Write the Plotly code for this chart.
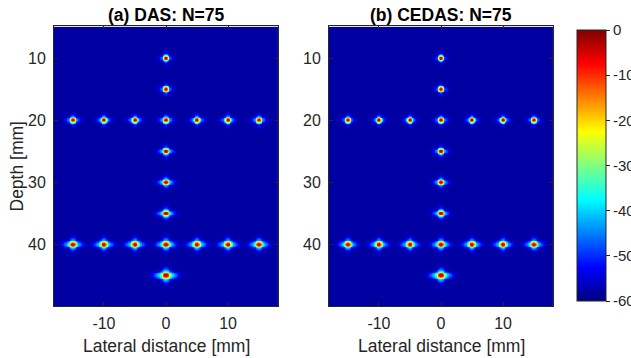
import numpy as np
import plotly.graph_objects as go

# ---- point targets (mm) ----
target_lateral_mm = [0, 0, -15, -10, -5, 0, 5, 10, 15, 0, 0, 0, -15, -10, -5, 0, 5, 10, 15, 0]
target_depth_mm = [10, 15, 20, 20, 20, 20, 20, 20, 20, 25, 30, 35, 40, 40, 40, 40, 40, 40, 40, 45]
das_peak_db = [-2, -2, -3, -3, -3, -2, -3, -3, -3, -2, -2, -2, -3, -3, -3, -2, -3, -3, -3, -1]
cedas_peak_db = [-2, -2, -3, -3, -3, -2, -3, -3, -3, -2, -2, -2, -3, -3, -3, -2, -3, -3, -3, -1]

# ---- point-spread sizes per depth ----
psf_depth_mm = [10, 15, 20, 25, 30, 35, 40, 45]
das_lateral_sigma_mm = [0.16, 0.17, 0.18, 0.19, 0.20, 0.21, 0.23, 0.26]
cedas_lateral_sigma_mm = [0.15, 0.16, 0.17, 0.18, 0.19, 0.20, 0.22, 0.25]
das_axial_sigma_mm = [0.17, 0.17, 0.17, 0.17, 0.17, 0.17, 0.18, 0.19]
cedas_axial_sigma_mm = [0.17, 0.17, 0.17, 0.17, 0.17, 0.17, 0.18, 0.19]
das_sidelobe_db = [-42, -41, -39, -38, -37, -36, -34, -32]
cedas_sidelobe_db = [-44, -43, -41, -40, -39, -38, -35, -33]
floor_db = -58

# ---- axes / labels ----
x_ticks = [-10, 0, 10]
x_tick_text = ["-10", "0", "10"]
y_ticks = [10, 20, 30, 40]
y_tick_text = ["10", "20", "30", "40"]
cb_ticks = [0, -10, -20, -30, -40, -50, -60]
cb_tick_text = ["0", "-10", "-20", "-30", "-40", "-50", "-60"]
titles = ["(a) DAS: N=75", "(b) CEDAS: N=75"]

x_grid = np.round(np.arange(-18.0, 18.0001, 0.12), 3)
z_grid = np.round(np.arange(5.0, 50.0001, 0.12), 3)
X, Z = np.meshgrid(x_grid, z_grid)


def image_db(peaks, lat_sig, ax_sig, side_db):
    env = np.zeros_like(X)
    for tx, tz, pk in zip(target_lateral_mm, target_depth_mm, peaks):
        i = psf_depth_mm.index(tz)
        sx, sz = lat_sig[i], ax_sig[i]
        sl = 10 ** (side_db[i] / 20)
        dx, dz = X - tx, Z - tz
        main = np.exp(-0.5 * (dx / sx) ** 2 - 0.5 * (dz / sz) ** 2)
        ltail = sl * np.exp(-0.5 * (dx / (3.4 * sx)) ** 2 - 0.5 * (dz / (1.5 * sz)) ** 2)
        vtail = 0.8 * sl * np.exp(-0.5 * (dx / (1.3 * sx)) ** 2 - 0.5 * (dz / (3.0 * sz)) ** 2)
        env += 10 ** (pk / 20) * (main + ltail + vtail)
    db = 20 * np.log10(env + 10 ** (floor_db / 20))
    return np.round(np.clip(db, -60, 0), 1)


img_das = image_db(das_peak_db, das_lateral_sigma_mm, das_axial_sigma_mm, das_sidelobe_db)
img_cedas = image_db(cedas_peak_db, cedas_lateral_sigma_mm, cedas_axial_sigma_mm, cedas_sidelobe_db)

jet = [[0.0, "rgb(0,0,128)"], [0.125, "rgb(0,0,255)"], [0.375, "rgb(0,255,255)"],
       [0.625, "rgb(255,255,0)"], [0.875, "rgb(255,0,0)"], [1.0, "rgb(128,0,0)"]]

W, H = 631, 358
ink = "rgb(38,38,38)"
font = "Liberation Sans, Arial, Helvetica, sans-serif"

fig = go.Figure()
fig.add_trace(go.Heatmap(x=x_grid, y=z_grid, z=img_das, coloraxis="coloraxis",
                         xaxis="x", yaxis="y", hoverinfo="skip"))
fig.add_trace(go.Heatmap(x=x_grid, y=z_grid, z=img_cedas, coloraxis="coloraxis",
                         xaxis="x2", yaxis="y2", hoverinfo="skip"))

panels = [(54, 278), (329, 553)]
top_px, bot_px = 26, 306
ydom = [1 - bot_px / H, 1 - top_px / H]


def xax(dom):
    return dict(domain=[dom[0] / W, dom[1] / W], range=[-18.05, 18.05], tickvals=x_ticks,
                ticktext=x_tick_text, ticks="inside", ticklen=4, tickcolor=ink,
                showline=True, linecolor=ink, linewidth=1, mirror="ticks",
                showgrid=False, zeroline=False, tickfont=dict(size=16, color=ink, family=font),
                ticklabelstandoff=3, automargin=False)


def yax(anchor):
    return dict(domain=ydom, range=[50, 4.8], tickvals=y_ticks, ticktext=y_tick_text,
                ticks="inside", ticklen=4, tickcolor=ink, showline=True, linecolor=ink,
                linewidth=1, mirror="ticks", showgrid=False, zeroline=False, anchor=anchor,
                tickfont=dict(size=16, color=ink, family=font), ticklabelstandoff=4,
                automargin=False)


ann = []
for k, (l, r) in enumerate(panels):
    cx = (l + r) / 2 / W
    ann.append(dict(x=cx, y=1 - 15 / H, xref="paper", yref="paper", text="<b>" + titles[k] + "</b>",
                    showarrow=False, font=dict(size=17.5, color="black", family=font),
                    xanchor="center", yanchor="middle"))
    ann.append(dict(x=cx, y=1 - 346 / H, xref="paper", yref="paper", text="Lateral distance [mm]",
                    showarrow=False, font=dict(size=17.5, color=ink, family=font),
                    xanchor="center", yanchor="middle"))
ann.append(dict(x=16.5 / W, y=1 - 167 / H, xref="paper", yref="paper", text="Depth [mm]",
                showarrow=False, textangle=-90, font=dict(size=17.5, color=ink, family=font),
                xanchor="center", yanchor="middle"))

fig.update_layout(
    width=W, height=H, margin=dict(l=0, r=0, t=0, b=0, autoexpand=False),
    paper_bgcolor="white", plot_bgcolor="white",
    xaxis=xax(panels[0]), yaxis=yax("x"),
    xaxis2=xax(panels[1]), yaxis2=yax("x2"),
    coloraxis=dict(colorscale=jet, cmin=-60, cmax=0,
                   colorbar=dict(x=577 / W, xanchor="left", xpad=0, ypad=0,
                                 y=1 - 165.5 / H, yanchor="middle",
                                 lenmode="pixels", len=271, thicknessmode="pixels", thickness=29,
                                 outlinewidth=1, outlinecolor=ink,
                                 tickvals=cb_ticks, ticktext=cb_tick_text, ticks="outside",
                                 ticklen=4, tickcolor=ink,
                                 tickfont=dict(size=15, color=ink, family=font))),
    annotations=ann, showlegend=False,
)

fig.write_html("out.html", config={"displayModeBar": False},
               post_script="document.body.style.margin='0';document.body.style.overflow='hidden';")
